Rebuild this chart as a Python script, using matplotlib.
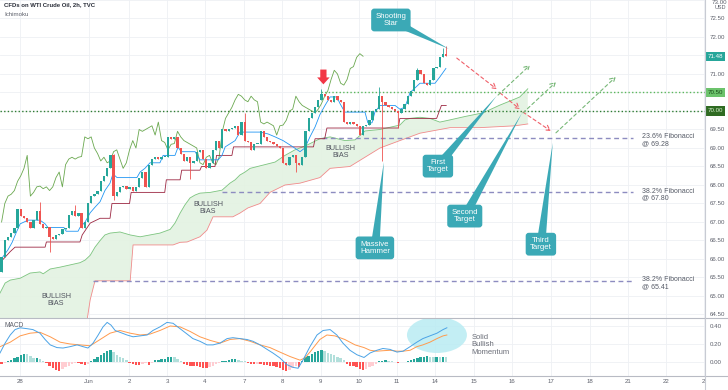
import numpy as np
import matplotlib
matplotlib.use('Agg')
import matplotlib.pyplot as plt
from matplotlib.patches import Ellipse
from matplotlib.lines import Line2D

plt.rcParams['font.family'] = ['Liberation Sans', 'DejaVu Sans']

# ---- 2h candles (bar index 0..139) ----
first_open = 65.65
closes = [
    66.05, 66.5, 66.6, 66.7, 66.85, 67.35, 67.15, 67.1, 67.0, 66.85,
    67.05, 67.3, 66.95, 66.85, 66.87, 66.6, 66.55, 66.65, 66.67, 66.8,
    66.85, 67.2, 67.3, 67.15, 67.25, 66.85, 67.0, 67.5, 67.7, 67.75,
    67.85, 68.1, 68.25, 68.45, 68.8, 67.7, 67.8, 67.95, 67.97, 67.9,
    67.95, 67.85, 67.95, 68.2, 68.35, 67.95, 68.55, 68.7, 68.75, 68.7,
    68.75, 68.77, 69.3, 69.25, 69.3, 69.0, 68.85, 68.65, 68.75, 68.6,
    68.65, 68.9, 68.95, 68.7, 68.45, 68.6, 68.95, 69.2, 69.0, 69.5,
    69.45, 69.5, 69.55, 69.6, 69.35, 69.7, 69.2, 69.15, 68.95, 69.1,
    69.12, 69.45, 69.3, 69.2, 69.15, 69.1, 69.05, 69.0, 68.6, 68.55,
    68.75, 68.8, 68.6, 68.55, 68.75, 69.45, 69.8, 69.95, 70.1, 70.3,
    70.45, 70.4, 70.3, 70.25, 70.4, 70.3, 70.25, 69.7, 69.65, 69.7,
    69.65, 69.6, 69.35, 69.6, 69.62, 69.75, 70.0, 70.05, 70.4, 70.25,
    70.15, 70.1, 70.05, 70.0, 69.95, 70.05, 70.2, 70.4, 70.55, 70.85,
    71.1, 71.0, 70.75, 70.7, 70.85, 71.15, 71.2, 71.45, 71.55, 71.48,
]
# notable wicks
hi_idx = [12, 23, 35, 76, 100, 118, 130, 138, 139]
hi_val = [67.55, 67.45, 68.85, 69.95, 70.6, 70.65, 71.15, 71.7, 71.75]
lo_idx = [15, 35, 59, 92, 119, 124]
lo_val = [66.2, 67.6, 68.15, 68.35, 68.65, 69.55]

# ---- Ichimoku lines (bar, price) ----
tenkan_x = [-0.5, 2.0, 3.3, 4.5, 5.8, 8.3, 12.0, 13.6, 14.5, 19.5, 20.2, 23.9, 24.5, 26.1,
            27.7, 29.2, 30.8, 32.3, 33.9, 34.8, 36.1, 42.3, 43.3, 44.8, 46.4, 49.5, 50.5,
            54.2, 55.2, 56.1, 60.5, 62.0, 67.7, 68.9, 69.9, 73.0, 74.5, 80.8, 83.3, 85.5,
            88.0, 91.1, 93.3, 94.8, 96.4, 98.0, 99.5, 101.1, 102.7, 104.8, 105.8, 107.3,
            113.6, 114.5, 115.8, 116.7, 118.3, 123.0, 124.5, 126.1, 127.7, 129.2, 130.8,
            135.5, 137.0, 138.9]
tenkan_y = [65.95, 66.25, 66.45, 66.7, 66.95, 67.05, 67.05, 66.95, 66.85, 66.85, 66.75,
            66.75, 66.85, 67.0, 67.25, 67.4, 67.55, 67.85, 68.05, 68.3, 68.2, 68.2, 68.35,
            68.45, 68.6, 68.6, 68.8, 68.8, 69.03, 68.9, 68.9, 68.68, 68.68, 68.8, 69.03,
            69.2, 69.43, 69.43, 69.38, 69.3, 69.2, 69.03, 68.9, 69.0, 69.3, 69.57, 69.9,
            70.15, 70.38, 70.38, 70.2, 69.97, 69.97, 69.68, 69.68, 69.97, 70.15, 70.15,
            70.05, 70.1, 70.5, 70.62, 70.75, 70.75, 70.92, 71.15]
kijun_x = [-0.5, 2.7, 4.2, 13.6, 14.0, 24.5, 25.2, 27.7, 30.8, 33.9, 34.5, 40.0, 40.5,
           51.0, 51.5, 55.8, 56.3, 62.0, 62.5, 66.7, 67.2, 72.0, 72.5, 97.5, 98.0, 101.0,
           101.7, 124.0, 124.5, 136.0, 137.5, 139.0]
kijun_y = [65.9, 66.2, 66.32, 66.32, 66.46, 66.46, 66.65, 66.97, 67.1, 67.1, 67.5, 67.5,
           67.8, 67.8, 68.14, 68.14, 68.4, 68.4, 68.5, 68.5, 68.8, 68.8, 69.03, 69.03,
           69.25, 69.25, 69.54, 69.54, 69.8, 69.8, 70.15, 70.15]
span_a_x = [-0.5, 1.1, 2.7, 5.8, 8.9, 12.0, 13.0, 15.2, 18.3, 21.4, 24.5, 26.1, 27.7, 29.2,
            30.8, 32.3, 33.9, 37.0, 40.2, 43.3, 46.4, 49.5, 52.7, 54.2, 55.8, 57.3, 58.9,
            60.5, 62.0, 65.2, 68.9, 71.4, 73.0, 74.5, 76.1, 77.7, 82.3, 85.5, 88.6, 91.7,
            94.8, 99.5, 102.7, 107.3, 110.5, 113.6, 118.3, 124.5, 126.1, 127.7, 130.8,
            133.9, 137.0, 140.2, 144.8, 150.5, 155.8, 159.8, 162.0, 164.5]
span_a_y = [65.08, 65.35, 65.43, 65.48, 65.62, 65.65, 65.6, 65.73, 65.78, 65.84, 65.9,
            65.97, 66.1, 66.32, 66.5, 66.65, 66.7, 66.73, 66.65, 66.6, 66.65, 66.7, 66.8,
            66.97, 67.24, 67.46, 67.65, 67.73, 67.78, 67.8, 67.86, 68.05, 68.14, 68.27,
            68.35, 68.45, 68.55, 68.62, 68.8, 68.95, 69.05, 69.25, 69.3, 69.2, 69.22, 69.46,
            69.5, 69.62, 69.76, 69.8, 69.83, 69.8, 69.7, 69.76, 69.85, 69.95, 70.16, 70.3,
            70.38, 70.6]
span_b_x = [-0.5, 26.1, 27.7, 29.2, 40.2, 41.1, 53.6, 55.8, 58.0, 62.0, 64.2, 66.1, 72.3,
            74.5, 77.0, 80.8, 83.9, 88.6, 93.3, 99.5, 102.7, 108.9, 113.6, 118.3, 124.5,
            130.8, 140.2, 149.5, 160.5, 164.5]
span_b_y = [64.0, 64.0, 64.9, 65.41, 65.41, 66.38, 66.38, 66.45, 66.46, 66.6, 66.78, 67.14,
            67.14, 67.24, 67.38, 67.5, 67.8, 68.0, 68.05, 68.2, 68.45, 68.5, 68.75, 69.0,
            69.2, 69.4, 69.55, 69.55, 69.6, 69.65]
chikou_shift = 26

# ---- MACD (bar, value) ----
macd_x = [-0.5, 1.1, 2.7, 4.2, 5.8, 8.0, 9.8, 12.0, 13.6, 15.2, 17.3, 19.2, 21.4, 23.6,
          25.5, 27.0, 28.6, 30.2, 31.7, 33.0, 34.2, 35.5, 37.0, 39.2, 41.1, 43.3, 45.5,
          47.3, 49.5, 51.7, 53.6, 55.8, 58.0, 59.8, 62.0, 64.2, 66.1, 68.3, 70.5, 72.3,
          74.5, 76.7, 78.6, 80.8, 83.0, 84.8, 87.0, 89.2, 91.1, 92.7, 94.2, 96.4, 98.6,
          100.5, 102.7, 104.8, 106.7, 108.9, 111.1, 113.3, 115.2, 117.3, 119.2, 121.4,
          123.6, 125.5, 127.7, 129.8, 131.7, 133.9, 136.1, 138.0, 139.2]
macd_y = [0.10, 0.21, 0.30, 0.36, 0.38, 0.37, 0.36, 0.32, 0.25, 0.19, 0.16, 0.155, 0.17,
          0.19, 0.17, 0.155, 0.21, 0.30, 0.39, 0.44, 0.41, 0.35, 0.33, 0.30, 0.28, 0.29,
          0.30, 0.35, 0.39, 0.44, 0.43, 0.37, 0.31, 0.26, 0.23, 0.19, 0.19, 0.21, 0.26,
          0.27, 0.26, 0.25, 0.23, 0.19, 0.14, 0.10, 0.045, -0.03, -0.06, -0.07, 0.02, 0.17,
          0.30, 0.35, 0.36, 0.30, 0.21, 0.13, 0.08, 0.05, 0.10, 0.13, 0.15, 0.14, 0.11,
          0.12, 0.17, 0.22, 0.26, 0.29, 0.32, 0.36, 0.38]
signal_x = [-0.5, 2.7, 5.8, 8.9, 12.0, 15.2, 18.3, 21.4, 24.5, 27.7, 30.8, 33.9, 37.0,
            40.2, 43.3, 46.4, 49.5, 52.7, 55.8, 58.9, 62.0, 65.2, 68.3, 71.4, 74.5, 77.7,
            80.8, 83.9, 87.0, 90.2, 93.3, 94.8, 96.4, 99.5, 101.7, 104.2, 107.3, 110.5,
            113.3, 115.2, 117.3, 119.2, 121.4, 123.6, 125.5, 127.7, 129.8, 131.7, 133.9,
            136.1, 138.0, 139.2]
signal_y = [0.17, 0.22, 0.29, 0.32, 0.33, 0.28, 0.22, 0.20, 0.19, 0.18, 0.25, 0.32, 0.35,
            0.32, 0.30, 0.31, 0.35, 0.40, 0.39, 0.34, 0.28, 0.24, 0.21, 0.25, 0.26, 0.23,
            0.19, 0.16, 0.11, 0.06, 0.02, 0.045, 0.11, 0.25, 0.30, 0.29, 0.25, 0.19, 0.16,
            0.13, 0.12, 0.125, 0.13, 0.12, 0.12, 0.13, 0.17, 0.19, 0.22, 0.26, 0.29, 0.30]
hist = [
    -0.02, -0.01, 0.01, 0.02, 0.04, 0.06, 0.08, 0.09, 0.085, 0.07,
    0.04, 0.045, 0.03, 0.01, -0.01, -0.04, -0.07, -0.09, -0.10, -0.08,
    -0.06, -0.04, -0.02, -0.01, -0.015, -0.025, -0.03, -0.02, 0.01, 0.03,
    0.05, 0.08, 0.10, 0.12, 0.13, 0.11, 0.08, 0.06, 0.04, 0.02,
    -0.01, -0.02, -0.03, -0.035, -0.02, -0.01, -0.03, -0.01, 0.02, 0.025,
    0.03, 0.035, 0.05, 0.055, 0.05, 0.03, 0.01, -0.02, -0.03, -0.04,
    -0.045, -0.05, -0.06, -0.065, -0.07, -0.06, -0.04, -0.025, -0.01, 0.01,
    0.015, 0.02, 0.03, 0.032, 0.02, 0.015, 0.01, -0.01, -0.02, -0.025,
    -0.02, -0.025, -0.03, -0.035, -0.04, -0.05, -0.06, -0.07, -0.09, -0.10,
    -0.085, -0.07, -0.05, -0.06, 0.01, 0.05, 0.07, 0.09, 0.11, 0.12,
    0.13, 0.12, 0.10, 0.09, 0.08, 0.06, 0.04, 0.02, -0.02, -0.04,
    -0.05, -0.06, -0.08, -0.09, -0.08, -0.06, -0.04, -0.02, 0.01, 0.015,
    0.02, 0.015, 0.01, 0.005, -0.01, -0.005, 0.005, 0.01, 0.02, 0.03,
    0.04, 0.05, 0.06, 0.065, 0.055, 0.05, 0.055, 0.05, 0.055, 0.05,
]

# ---- axis labels ----
day_pos = [5.8, 27.3, 39.8, 51.7, 63.6, 75.8, 87.7, 99.8, 111.7, 123.6, 135.5,
           147.7, 159.5, 171.7, 183.9, 195.8, 207.7, 219.5]
day_labels = ['28', 'Jun', '2', '3', '4', '7', '8', '9', '10', '11', '14',
              '15', '16', '17', '18', '21', '22', '2']

# ---- annotations ----
fib_levels = [69.28, 67.80, 65.41]
fib_names = ['23.6% Fibonacci', '38.2% Fibonacci', '38.2% Fibonacci']
fib_start = [100.2, 68.9, 28.6]
last_price = 71.48
resist_levels = [70.50, 70.00]

GREEN = '#26a69a'
RED = '#ef5350'
TEAL = '#3ba9b6'
AXIS_TXT = '#5d606b'

o = np.array([first_open] + closes[:-1])
c = np.array(closes)
x = np.arange(len(c))
hi = np.maximum(o, c)
lo = np.minimum(o, c)
hi[hi_idx] = hi_val
lo[lo_idx] = lo_val
up = c >= o
cols = np.where(up, GREEN, RED)

fig = plt.figure(figsize=(7.28, 3.9), dpi=100)
ax = fig.add_axes([0, 0.1846, 0.9684, 0.8154])
mx = fig.add_axes([0, 0.0359, 0.9684, 0.1462])

for a in (ax, mx):
    a.set_xlim(-0.5, 219.9)
    a.set_xticks(day_pos)
    for s in a.spines.values():
        s.set_visible(False)
    a.grid(True, color='#eef0f4', lw=0.6, zorder=0)
    a.set_axisbelow(True)
    a.yaxis.tick_right()
    a.tick_params(length=0, labelsize=4.4, labelcolor=AXIS_TXT, pad=3.5)

# main price pane
ax.set_ylim(64.405, 73.0)
yt = np.arange(64.5, 72.51, 0.5)
ax.set_yticks(yt)
ax.set_yticklabels(['' if round(v, 2) in (70.0, 70.5, 71.5) else f'{v:.2f}' for v in yt])
ax.tick_params(axis='x', labelbottom=False)
ax.axhline(73.0, color='#eef0f4', lw=0.6, zorder=0)

# cloud
ax.fill(list(span_a_x) + span_b_x[::-1], list(span_a_y) + span_b_y[::-1],
        color='#e3f2e1', alpha=0.9, lw=0, zorder=1)
ax.plot(span_a_x, span_a_y, color='#7cc47f', lw=0.6, zorder=2)
ax.plot(span_b_x, span_b_y, color='#f08a8a', lw=0.6, zorder=2)

# horizontal levels
for lvl, x0 in zip(fib_levels, fib_start):
    ax.plot([x0, 197.3], [lvl, lvl], color='#8d8cc0', lw=1.0, ls=(0, (3.5, 2.5)), zorder=2)
for lvl, name in zip(fib_levels, fib_names):
    ax.text(200.2, lvl + 0.13, f'{name}\n@ {lvl:.2f}', fontsize=5.0, color='#555a66',
            va='top', ha='left', linespacing=1.0)
ax.plot([100.0, 219.9], [resist_levels[0]] * 2, color='#5cb85c', lw=1.0, ls=(0, (1, 1.6)), zorder=2)
ax.plot([-0.5, 219.9], [resist_levels[1]] * 2, color='#2e7d32', lw=1.0, ls=(0, (1, 1.6)), zorder=2)

# ichimoku lines
ax.plot(x[chikou_shift:] - chikou_shift, c[chikou_shift:], color='#6aa84f', lw=0.6, zorder=3)
ax.plot(kijun_x, kijun_y, color='#9c2742', lw=0.6, zorder=3)
ax.plot(tenkan_x, tenkan_y, color='#2196f3', lw=0.6, zorder=3)

# candles
body = c - o
body = np.where(np.abs(body) < 0.025, 0.025, body)
ax.vlines(x, lo, hi, colors=cols, lw=0.6, zorder=4)
ax.bar(x, body, bottom=o, width=0.72, color=cols, lw=0, zorder=5)

# red marker arrow
ax.annotate('', xy=(100.6, 70.72), xytext=(100.6, 71.12),
            arrowprops=dict(arrowstyle='simple,head_length=0.5,head_width=0.9,tail_width=0.45',
                            fc='#f23645', ec='none', shrinkA=0, shrinkB=0), zorder=6)

# projected path
red_paths = [((142.3, 71.43), (154.8, 70.59)), ((155.8, 70.49), (162.0, 70.05)),
             ((163.0, 69.97), (171.7, 69.46))]
green_paths = [((155.2, 70.43), (165.2, 71.24)), ((163.0, 69.95), (173.3, 70.78)),
               ((173.3, 69.41), (192.0, 70.92))]
for paths, col in ((red_paths, '#f0606a'), (green_paths, '#78b878')):
    for p0, p1 in paths:
        ax.annotate('', xy=p1, xytext=p0,
                    arrowprops=dict(arrowstyle='->,head_length=0.35,head_width=0.2', color=col,
                                    lw=0.8, ls=(0, (3, 2.5)), shrinkA=0, shrinkB=0), zorder=6)

# callouts
callouts = [('Shooting\nStar', (121.7, 72.46), (139.8, 71.68)),
            ('First\nTarget', (136.4, 68.51), (154.8, 70.41)),
            ('Second\nTarget', (144.8, 67.16), (162.7, 69.95)),
            ('Massive\nHammer', (116.7, 66.3), (119.5, 68.62)),
            ('Third\nTarget', (168.6, 66.4), (172.3, 69.14))]
for txt, box, tip in callouts:
    ax.annotate(txt, xy=tip, xytext=box, ha='center', va='center', fontsize=5.6, color='white',
                linespacing=1.05, zorder=7,
                bbox=dict(boxstyle='round,pad=0.55,rounding_size=0.4', fc=TEAL, ec='none'),
                arrowprops=dict(arrowstyle='wedge,tail_width=1.15,shrink_factor=0.5', fc=TEAL,
                                ec='none', patchA=None, shrinkA=0, shrinkB=0))

for bx, by in ((17.0, 64.9), (64.5, 67.38), (106.0, 68.9)):
    ax.text(bx, by, 'BULLISH\nBIAS', fontsize=5.2, color='#50535e', ha='center', va='center',
            linespacing=1.0, zorder=6)

# price boxes on the axis
ytr = ax.get_yaxis_transform()
ax.text(1.004, last_price, f'{last_price:.2f}', transform=ytr, fontsize=4.4, color='white',
        va='center', ha='left', bbox=dict(boxstyle='square,pad=0.35', fc=GREEN, ec='none'))
ax.text(1.004, resist_levels[0], f'{resist_levels[0]:.2f}', transform=ytr, fontsize=4.4,
        color='#1b4d1b', va='center', ha='left',
        bbox=dict(boxstyle='square,pad=0.35', fc='#6cc36c', ec='none'))
ax.text(1.004, resist_levels[1], f'{resist_levels[1]:.2f}', transform=ytr, fontsize=4.4,
        color='#d8f0d0', va='center', ha='left',
        bbox=dict(boxstyle='square,pad=0.35', fc='#2f6b22', ec='none'))
ax.text(1.009, 73.0, '73.00', transform=ytr, fontsize=4.4, color=AXIS_TXT, va='top')
ax.text(1.014, 72.8, 'USD', transform=ytr, fontsize=4.0, color=AXIS_TXT, va='center')

# MACD pane
mx.set_ylim(-0.156, 0.478)
mx.set_yticks([0.0, 0.2, 0.4])
mx.set_yticklabels(['0.00', '0.20', '0.40'])
mx.set_xticklabels(day_labels)
mx.tick_params(axis='x', pad=2.5)
h = np.array(hist)
prev = np.concatenate([[h[0] + 0.01], h[:-1]])
hcols = np.where(h >= 0, np.where(h >= prev, '#26a69a', '#b2dfdb'),
                 np.where(h < prev, '#ff5252', '#ffcdd2'))
mx.add_patch(Ellipse((136.1, 0.30), 18.75, 0.40, color='#b9ecf3', alpha=0.85, lw=0, zorder=1))
mx.bar(x, h, width=0.75, color=hcols, lw=0, zorder=2)
mx.plot(signal_x, signal_y, color='#ff9a4d', lw=0.7, zorder=3)
mx.plot(macd_x, macd_y, color='#4ba3e6', lw=0.7, zorder=3)
mx.text(0.006, 0.88, 'MACD', transform=mx.transAxes, fontsize=4.8, color=AXIS_TXT, va='center')
mx.text(147.0, 0.31, 'Solid\nBullish\nMomentum', fontsize=5.5, color='#6b6e78', va='top',
        ha='left', linespacing=1.05)

# titles
fig.text(0.006, 0.987, 'CFDs on WTI Crude Oil, 2h, TVC', fontsize=4.3, color='#2a2e39',
         weight='bold', va='center')
fig.text(0.006, 0.962, 'Ichimoku', fontsize=4.4, color=AXIS_TXT, va='center')

# pane separators
for yy in (0.1846, 0.0359):
    fig.add_artist(Line2D([0, 1], [yy, yy], color='#b8bbc4', lw=0.8))
fig.add_artist(Line2D([0.9684, 0.9684], [0, 1], color='#c8cbd3', lw=0.8))

fig.savefig('out.png', dpi=100)
